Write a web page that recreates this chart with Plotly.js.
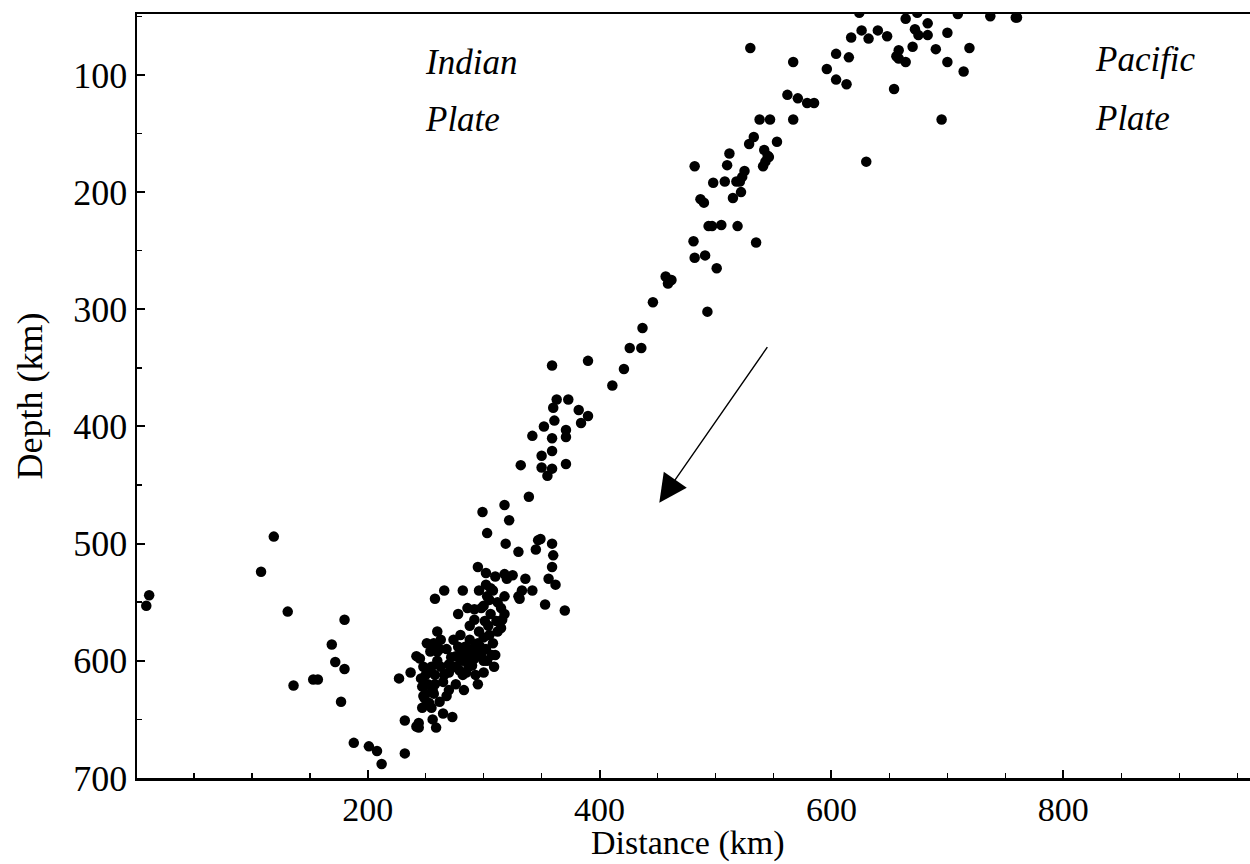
<!DOCTYPE html>
<html>
<head>
<meta charset="utf-8">
<script src="https://cdn.plot.ly/plotly-3.0.1.min.js"></script>
<style>html,body{margin:0;padding:0;background:#fff;}#chart{width:1250px;height:864px;}</style>
</head>
<body>
<div id="chart"></div>
<script>
// Earthquake hypocentres: distance (km) and depth (km)
const leftDistance = [9,11.5,108,119,131,136,153,157,169,172,180,180,177,188,201,208,212,227,232,232,237,242,242,244,244,256,259,258,266,260];
const leftDepth    = [553,544,524,494,558,621,616,616,586,601,607,565,635,670,673,677,688,615,651,679,610,596,656,653,657,650,657,547,540,575];

const clusterDistance = [245,248,250,252,250,253,255,247,249,256,258,260,262,263,265,268,270,272,275,276,278,280,282,283,285,287,288,290,292,293,295,296,298,300,300,302,304,306,308,310,312,305,298,292,288,286,282,278,270,265,273,257,262,254,251,246,247,285,290,295,283,281,276,270,266,258,255,300,303,307,309,280,274,268,263,260,257,252,248,294,297,289,284,279,301,305,311,315,318];
const clusterDepth    = [598,605,612,620,628,636,640,640,632,625,612,600,590,605,618,630,610,597,605,620,588,600,612,625,595,605,582,590,598,612,585,575,595,600,580,590,570,560,585,595,575,548,555,565,570,555,540,560,625,645,648,628,635,592,585,615,622,610,604,620,600,592,596,603,612,620,605,610,600,595,605,578,582,590,582,592,585,610,630,592,588,598,588,608,566,578,566,572,560];

const midDistance = [299,303,318,322,332,339,330,319,347,349,345,359,360,359,362,356,336,318,325,302,295,330,333,353,370,342,331,302,300,303,308,312,315,318,320,310,306,296,292,316];
const midDepth    = [473,491,467,480,433,460,507,500,497,496,505,500,510,520,535,530,530,526,527,525,520,545,540,552,557,540,547,535,553,545,540,550,555,545,530,528,538,540,556,565];

const upperDistance = [359,360,363,352,342,361,359,350,373,382,384,390,371,371,371,359,355,359,350,390,411,421,426,436,437,446,457,459,462,482,487,490,498,508,518,521,523,525,510,481,482,491,501,493,494,497,505,519,535,512,529,533,538,547,553,542,545,546,543,541,515,522];
const upperDepth    = [348,384,377,400,408,395,410,425,377,386,397,391,403,409,432,421,442,436,435,344,365,351,333,333,316,294,272,278,275,178,206,209,192,191,191,191,187,182,177,242,256,254,265,302,229,229,228,229,243,167,159,153,138,138,157,164,169,170,174,178,205,200];

const topDistance = [530,562,571,579,585,567,567,596,604,615,604,613,617,624,626,632,640,648,654,630,656,658,658,664,664,670,672,674,675,683,683,690,695,700,700,709,714,719,737,759,760];
const topDepth    = [77,117,120,124,124,138,89,95,82,85,104,108,68,47,62,69,62,67,112,174,84,86,79,89,52,76,61,47,66,66,56,78,138,64,89,48,97,77,50,51,51];

const distance = [].concat(leftDistance, clusterDistance, midDistance, upperDistance, topDistance);
const depth = [].concat(leftDepth, clusterDepth, midDepth, upperDepth, topDepth);

const xTicks = [200, 400, 600, 800];
const yTicks = [100, 200, 300, 400, 500, 600, 700];
const xMinor = [50,100,150,250,300,350,450,500,550,650,700,750,850,900,950];
const yMinor = [50,150,250,350,450,550,650];

const xTitle = 'Distance (km)';
const yTitle = 'Depth (km)';

const serif = "Liberation Serif, Times New Roman, serif";

const trace = {
  x: distance, y: depth, type: 'scatter', mode: 'markers',
  marker: {color: '#000', size: 10.5, line: {width: 0}},
  hoverinfo: 'x+y'
};

const layout = {
  width: 1250, height: 864,
  margin: {l: 137, r: 0, t: 14, b: 86},
  paper_bgcolor: '#fff', plot_bgcolor: '#fff',
  showlegend: false,
  font: {family: serif, color: '#000', size: 36},
  xaxis: {
    range: [1, 961], tickvals: xTicks, ticktext: xTicks.map(String),
    ticks: 'inside', ticklen: 8, tickwidth: 2, tickcolor: '#000',
    minor: {tickvals: xMinor, ticks: 'inside', ticklen: 5, tickwidth: 1.5, tickcolor: '#000'},
    showline: true, linecolor: '#000', linewidth: 2.5, mirror: true,
    showgrid: false, zeroline: false, automargin: false,
    tickfont: {family: serif, size: 34, color: '#000'}
  },
  yaxis: {
    range: [700, 48], tickvals: yTicks, ticktext: yTicks.map(String),
    ticks: 'inside', ticklen: 8, tickwidth: 2, tickcolor: '#000',
    minor: {tickvals: yMinor, ticks: 'inside', ticklen: 5, tickwidth: 1.5, tickcolor: '#000'},
    showline: true, linecolor: '#000', linewidth: 2.5, mirror: false,
    showgrid: false, zeroline: false, automargin: false,
    tickfont: {family: serif, size: 36, color: '#000'},
    title: {text: yTitle, font: {family: serif, size: 36, color: '#000'}, standoff: 20}
  },
  annotations: [
    {x: 0.495, y: -0.085, xref: 'paper', yref: 'paper', text: xTitle, showarrow: false, xanchor: 'center', yanchor: 'middle', font: {family: serif, size: 34, color: '#000'}},
    {x: 248, y: 89, xref: 'x', yref: 'y', text: '<i>Indian</i>', showarrow: false, xanchor: 'left', yanchor: 'middle', font: {family: serif, size: 35, color: '#000'}},
    {x: 248, y: 138, xref: 'x', yref: 'y', text: '<i>Plate</i>', showarrow: false, xanchor: 'left', yanchor: 'middle', font: {family: serif, size: 35, color: '#000'}},
    {x: 826, y: 87, xref: 'x', yref: 'y', text: '<i>Pacific</i>', showarrow: false, xanchor: 'left', yanchor: 'middle', font: {family: serif, size: 35, color: '#000'}},
    {x: 826, y: 137, xref: 'x', yref: 'y', text: '<i>Plate</i>', showarrow: false, xanchor: 'left', yanchor: 'middle', font: {family: serif, size: 35, color: '#000'}},
    {x: 451.5, y: 465, ax: 545.6, ay: 331, xref: 'x', yref: 'y', axref: 'x', ayref: 'y', text: '', showarrow: true, arrowhead: 2, arrowsize: 4, arrowwidth: 1.4, arrowcolor: '#000'}
  ]
};

Plotly.newPlot('chart', [trace], layout, {displayModeBar: false, staticPlot: true});
</script>
</body>
</html>
